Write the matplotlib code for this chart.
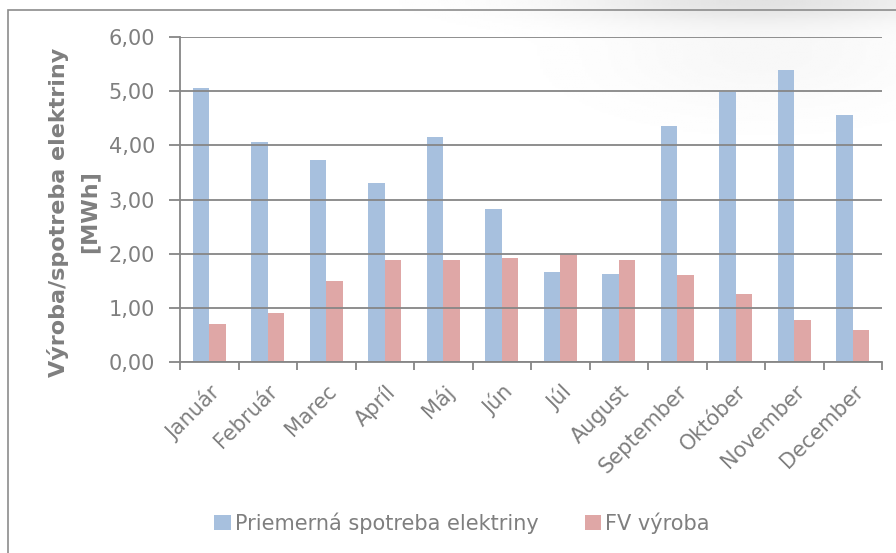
import numpy as np
import matplotlib
matplotlib.use("Agg")
import matplotlib.pyplot as plt
from matplotlib.patches import Rectangle

# monthly values in MWh
mesiace = ["Január", "Február", "Marec", "Apríl", "Máj", "Jún", "Júl",
           "August", "September", "Október", "November", "December"]
spotreba = [5.05, 4.07, 3.73, 3.30, 4.15, 2.82, 1.67, 1.63, 4.36, 4.98, 5.40, 4.56]
fv_vyroba = [0.70, 0.91, 1.50, 1.88, 1.88, 1.92, 2.00, 1.88, 1.60, 1.26, 0.77, 0.60]
y_ticks = [0, 1, 2, 3, 4, 5, 6]

blue = "#A7C0DE"
red = "#DFA7A6"
grid_gray = "#868686"
text_gray = "#7F7F7F"

plt.rcParams['font.family'] = ['DejaVu Sans']

fig = plt.figure(figsize=(8.96, 5.53), dpi=100)

# faint gray shading along the top edge (behind the chart box)
grad = np.linspace(0, 1, 300)
gx, gy = np.meshgrid(grad, grad)
shade = 1 - 0.10 * np.exp(-((gx - 0.85) ** 2 / 0.05 + (gy - 1.0) ** 2 / 0.0015))
shade -= 0.03 * np.exp(-((gx - 0.85) ** 2 / 0.03 + (gy - 0.9) ** 2 / 0.01))
bg = fig.add_axes([0, 0, 1, 1], zorder=-10)
bg.imshow(np.clip(shade, 0, 1), cmap="gray", vmin=0, vmax=1, origin="lower",
          extent=[0, 1, 0, 1], aspect="auto")
bg.axis("off")

# chart box border
fig.patches.append(Rectangle((8 / 896, -0.01), 1.0, (553 - 10) / 553 + 0.01,
                             transform=fig.transFigure, fill=False,
                             edgecolor="#8C8C8C", linewidth=1.2))

ax = fig.add_axes([180 / 896, 1 - 362 / 553, (882 - 180) / 896, (362 - 37) / 553])
ax.patch.set_alpha(0)

x = np.arange(len(mesiace))
w = 0.285
ax.bar(x - w / 2, spotreba, w, color=blue, label="Priemerná spotreba elektriny", zorder=1)
ax.bar(x + w / 2, fv_vyroba, w, color=red, label="FV výroba", zorder=1)

ax.set_xlim(-0.5, len(mesiace) - 0.5)
ax.set_ylim(0, 6)
ax.set_yticks(y_ticks)
ax.set_yticklabels([f"{v:.2f}".replace(".", ",") for v in y_ticks], color=text_gray, fontsize=15)
ax.yaxis.grid(True, color=grid_gray, linewidth=1.3, zorder=3)
ax.set_axisbelow(False)

ax.set_xticks(x)
ax.set_xticklabels(mesiace, rotation=45, ha="right", rotation_mode="anchor",
                   color=text_gray, fontsize=15)
ax.set_xticks(np.arange(-0.5, len(mesiace)), minor=True)
ax.tick_params(axis="x", which="major", length=0, pad=14)
ax.tick_params(axis="x", which="minor", length=6, color=grid_gray, width=1.3)
ax.tick_params(axis="y", length=8, color=grid_gray, width=1.3, pad=10)

for s in ["top", "right"]:
    ax.spines[s].set_visible(False)
for s in ["left", "bottom"]:
    ax.spines[s].set_color(grid_gray)
    ax.spines[s].set_linewidth(1.3)

ax.set_ylabel("Výroba/spotreba elektriny\n[MWh]", fontsize=16, fontweight="bold",
              color=text_gray, linespacing=1.6)
ax.yaxis.set_label_coords((99 - 180) / 702, (362 - 212) / 325)

fig.legend(loc="center", bbox_to_anchor=(462 / 896, 1 - 523 / 553), ncol=2,
           frameon=False, fontsize=15, labelcolor=text_gray, handlelength=0.8,
           handleheight=0.8, handletextpad=0.2, columnspacing=2.2)

fig.savefig("out.png", dpi=100)
